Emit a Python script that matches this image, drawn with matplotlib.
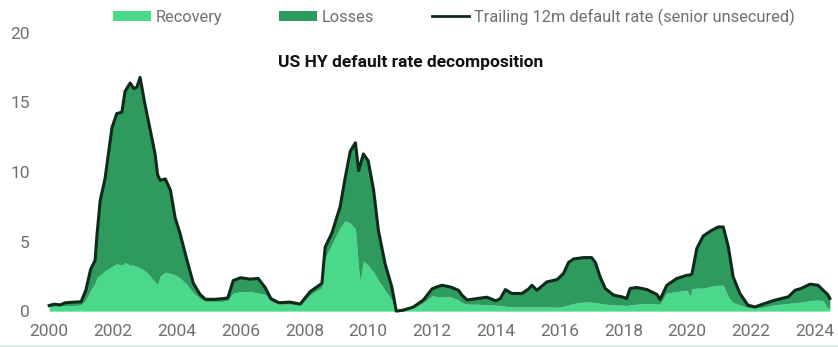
import matplotlib.pyplot as plt
from matplotlib.lines import Line2D
from matplotlib.patches import Patch
import numpy as np

plt.rcParams['font.family'] = ['Roboto', 'DejaVu Sans']

# decimal year, trailing 12m default rate (%), recovery part (%)
dates = [2000.0, 2000.15, 2000.35, 2000.5, 2000.8, 2001.0, 2001.15, 2001.3, 2001.44, 2001.5,
         2001.6, 2001.75, 2001.97, 2002.12, 2002.28, 2002.38, 2002.54, 2002.65, 2002.75, 2002.85,
         2003.0, 2003.17, 2003.32, 2003.4, 2003.48, 2003.64, 2003.8, 2003.95, 2004.1, 2004.32,
         2004.52, 2004.73, 2004.9, 2005.2, 2005.45, 2005.6, 2005.77, 2006.0, 2006.3, 2006.55,
         2006.77, 2006.95, 2007.2, 2007.55, 2007.87, 2007.97, 2008.18, 2008.55, 2008.65, 2008.86,
         2009.12, 2009.28, 2009.44, 2009.6, 2009.7, 2009.75, 2009.85, 2010.0, 2010.17, 2010.32,
         2010.53, 2010.74, 2010.88, 2011.1, 2011.42, 2011.73, 2012.0, 2012.15, 2012.31, 2012.57,
         2012.83, 2012.94, 2013.1, 2013.4, 2013.72, 2014.0, 2014.14, 2014.3, 2014.5, 2014.82,
         2015.03, 2015.13, 2015.29, 2015.6, 2015.92, 2016.12, 2016.28, 2016.44, 2016.75, 2017.0,
         2017.12, 2017.27, 2017.43, 2017.69, 2017.95, 2018.1, 2018.21, 2018.42, 2018.74, 2019.05,
         2019.15, 2019.36, 2019.67, 2019.99, 2020.1, 2020.15, 2020.3, 2020.5, 2020.76, 2020.97,
         2021.13, 2021.29, 2021.44, 2021.65, 2021.9, 2022.12, 2022.43, 2022.75, 2023.17, 2023.38,
         2023.57, 2023.85, 2024.1, 2024.26, 2024.4, 2024.47]
default_rate = [0.4, 0.5, 0.45, 0.6, 0.65, 0.67, 1.5, 3.0, 3.65, 5.5,
                7.96, 9.5, 13.2, 14.2, 14.3, 15.8, 16.4, 16.0, 16.1, 16.8,
                14.9, 13.0, 11.3, 9.8, 9.4, 9.5, 8.7, 6.7, 5.6, 3.66,
                2.0, 1.2, 0.85, 0.85, 0.9, 0.95, 2.2, 2.4, 2.3, 2.35,
                1.7, 0.9, 0.6, 0.65, 0.5, 0.8, 1.4, 2.0, 4.6, 5.6,
                7.5, 9.6, 11.5, 12.1, 10.1, 10.5, 11.3, 10.8, 8.7, 5.8,
                3.4, 1.74, 0.0, 0.07, 0.3, 0.8, 1.6, 1.74, 1.86, 1.74,
                1.5, 1.15, 0.8, 0.9, 1.0, 0.74, 0.9, 1.55, 1.27, 1.27,
                1.6, 1.86, 1.5, 2.1, 2.27, 2.7, 3.5, 3.75, 3.85, 3.85,
                3.5, 2.46, 1.63, 1.15, 1.03, 0.91, 1.63, 1.7, 1.55, 1.2,
                0.84, 1.86, 2.34, 2.58, 2.6, 2.7, 4.5, 5.4, 5.8, 6.05,
                6.05, 4.6, 2.46, 1.27, 0.43, 0.3, 0.55, 0.79, 1.03, 1.5,
                1.63, 1.94, 1.86, 1.5, 1.2, 0.91]
recovery = [0.3, 0.35, 0.35, 0.4, 0.4, 0.45, 0.8, 1.5, 2.0, 2.4,
            2.6, 2.9, 3.2, 3.4, 3.3, 3.5, 3.3, 3.3, 3.2, 3.1,
            2.9, 2.5, 2.1, 1.9, 2.5, 2.8, 2.7, 2.6, 2.4, 1.9,
            1.3, 0.9, 0.7, 0.7, 0.7, 0.75, 1.3, 1.4, 1.4, 1.3,
            1.2, 0.7, 0.5, 0.5, 0.45, 0.65, 1.15, 1.7, 3.8, 4.8,
            6.0, 6.5, 6.3, 5.9, 3.0, 2.1, 3.6, 3.3, 2.8, 2.2,
            1.5, 0.8, 0.0, 0.05, 0.25, 0.6, 1.1, 1.05, 1.05, 1.03,
            0.8, 0.6, 0.5, 0.5, 0.45, 0.43, 0.4, 0.35, 0.3, 0.3,
            0.3, 0.3, 0.3, 0.3, 0.28, 0.35, 0.45, 0.55, 0.65, 0.65,
            0.6, 0.55, 0.5, 0.45, 0.43, 0.4, 0.45, 0.5, 0.55, 0.5,
            0.5, 1.3, 1.4, 1.5, 1.0, 1.6, 1.65, 1.65, 1.8, 1.86,
            1.86, 1.0, 0.6, 0.45, 0.25, 0.2, 0.3, 0.45, 0.55, 0.6,
            0.65, 0.75, 0.8, 0.75, 0.2, 0.2]

year_ticks = list(range(2000, 2025, 2))
value_ticks = [0, 5, 10, 15, 20]

light_green = '#4ad88a'
dark_green = '#2e9a5e'
line_color = '#0e2a1b'
grey = '#6f6f6f'

x = np.array(dates)
total = np.array(default_rate)
rec = np.array(recovery)

fig = plt.figure(figsize=(8.38, 3.47), dpi=100)
ax = fig.add_axes([45 / 838, 31 / 347, 789 / 838, 287.3 / 347])

ax.fill_between(x, 0, rec, color=light_green, lw=0)
ax.fill_between(x, rec, total, color=dark_green, lw=0)
ax.plot(x, total, color=line_color, lw=2.2, solid_joinstyle='round')

ax.set_xlim(1999.87, 2024.6)
ax.set_ylim(-0.35, 20.3)
ax.set_xticks(year_ticks)
ax.set_yticks(value_ticks)
ax.tick_params(length=0, labelsize=12.5, labelcolor=grey)
ax.tick_params(axis='y', pad=11)
ax.tick_params(axis='x', pad=6)
for s in ax.spines.values():
    s.set_visible(False)

fig.text(411 / 838, 1 - 63 / 347, 'US HY default rate decomposition',
         ha='center', va='center', fontsize=12.5, fontweight='bold', color='#111111')

handles = [Patch(facecolor=light_green, edgecolor='none'),
           Patch(facecolor=dark_green, edgecolor='none'),
           Line2D([0], [0], color=line_color, lw=2)]
labels = ['Recovery', 'Losses', 'Trailing 12m default rate (senior unsecured)']
fig.legend(handles, labels, loc='center', bbox_to_anchor=(454 / 838, 1 - 17 / 347),
           ncol=3, frameon=False, fontsize=11.8, labelcolor=grey,
           handlelength=2.3, handleheight=0.6, handletextpad=0.3, columnspacing=3.5)

# thin rule along the bottom edge
fig.add_artist(Line2D([0, 1], [1.5 / 347, 1.5 / 347], color='#cfeee4', lw=1.2))

fig.savefig('out.png', dpi=100)
